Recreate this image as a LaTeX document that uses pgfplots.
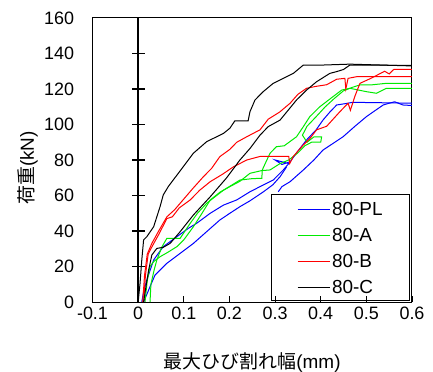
\documentclass[border=0pt]{standalone}
\usepackage{fontspec}
\setmainfont{Liberation Sans}
\newfontfamily\cjk{Noto Sans CJK JP}
\usepackage{pgfplots}
\pgfplotsset{compat=1.18}
\definecolor{cblue}{RGB}{0,0,255}
\definecolor{cgreen}{RGB}{0,235,0}
\definecolor{cred}{RGB}{255,0,0}
\begin{document}
\begin{tikzpicture}
\begin{axis}[name=ax, scale only axis, width=319.5bp, height=284bp,
 xmin=-0.1, xmax=0.6, ymin=0, ymax=160,
 xtick={-0.1,0,0.1,0.2,0.3,0.4,0.5,0.6},
 ytick={0,20,...,160},
 xtick pos=left, ytick pos=left,
 tick align=inside,
 major tick length=6bp,
 ytick style={draw=none},
 xtick style={black, line width=0.8bp},
 axis line style={line width=1bp},
 /pgf/number format/assume math mode=true,
 ticklabel style={font=\fontsize{18}{18}\selectfont},
 yticklabel style={xshift=-15bp},
 xticklabel style={yshift=-1bp},
 xlabel={{\cjk 最大ひび割れ幅}(mm)},
 ylabel={{\cjk 荷重}(kN)},
 label style={font=\fontsize{19}{19}\selectfont},
 xlabel style={at={([yshift=-61bp]axis description cs:0.5,0)}, anchor=center},
 ylabel style={at={([xshift=-64.5bp]axis description cs:0,0.472)}, anchor=center},
 legend style={at={(rel axis cs:0.99,0.007)}, anchor=south east, draw=none, fill=none,
   font=\fontsize{19}{19}\selectfont, inner xsep=24bp, inner ysep=3bp, row sep=7.2bp,
   nodes={inner sep=2bp}},
 legend cell align=left,
 legend image code/.code={\draw[mark repeat=2,mark phase=2,#1] plot coordinates {(0bp,0bp) (16bp,0bp) (32bp,0bp)};},
 every axis plot/.append style={line width=1bp},
]
\addlegendimage{color=cblue, draw=cblue, line width=1.1bp}
\addlegendentry{80-PL}
\addlegendimage{color=cgreen, draw=cgreen, line width=1.1bp}
\addlegendentry{80-A}
\addlegendimage{color=cred, draw=cred, line width=1.1bp}
\addlegendentry{80-B}
\addlegendimage{color=black, draw=black, line width=1.1bp}
\addlegendentry{80-C}
\addplot[draw=black, line width=1.5bp, forget plot] coordinates {(0,0) (0,160)};
\addplot[draw=black, only marks, mark=-, mark size=6.5bp, mark options={line width=1.3bp}, forget plot]
  coordinates {(0,20) (0,40) (0,60) (0,80) (0,100) (0,120) (0,140)};
% 80-PL
\addplot[draw=cblue, forget plot] coordinates {(0.008,0) (0.012,6) (0.019,12.4) (0.034,23.7) (0.055,31.2) (0.085,36.8) (0.11,41.5) (0.128,44.3) (0.158,50) (0.187,54.6) (0.216,57.5) (0.245,62.1) (0.274,65.9) (0.296,68.7) (0.318,74.4) (0.33,78) (0.30,80) (0.315,77.5) (0.333,79) (0.35,85) (0.369,91.3) (0.39,97) (0.405,102.5) (0.42,107) (0.435,111) (0.46,112) (0.47,112.5) (0.6,112)};
\addplot[draw=cblue, forget plot] coordinates {(0.012,0) (0.026,8.6) (0.037,15.2) (0.063,21.8) (0.092,27.4) (0.121,33) (0.15,39.6) (0.179,46.2) (0.201,50) (0.223,53.7) (0.245,57) (0.274,62) (0.295,66) (0.311,70.6) (0.325,76)};
\addplot[draw=cblue, forget plot] coordinates {(0.307,62.1) (0.315,65) (0.333,67.8) (0.362,74.4) (0.385,80) (0.405,85.6) (0.425,89) (0.449,93.1) (0.475,99) (0.5,104.4) (0.52,108) (0.537,111) (0.55,112) (0.562,112.8) (0.58,111) (0.6,110.7)};
% 80-A
\addplot[draw=cgreen, forget plot] coordinates {(0.015,0) (0.02,12) (0.026,20) (0.035,23) (0.048,25.5) (0.065,28) (0.085,31.2) (0.1,35) (0.121,42.4) (0.14,50) (0.158,57.5) (0.18,62) (0.201,65) (0.223,68) (0.245,72.5) (0.27,74) (0.289,74.4) (0.311,78) (0.33,80) (0.35,84) (0.365,88) (0.38,90) (0.40,90) (0.402,93) (0.385,93) (0.37,90) (0.36,94) (0.37,99) (0.39,104.4) (0.41,110) (0.43,114.7) (0.45,119) (0.47,121) (0.486,122.3) (0.51,122.3) (0.544,123.2) (0.6,123.2)};
\addplot[draw=cgreen, forget plot] coordinates {(0.026,0) (0.028,10) (0.035,18) (0.041,23.7) (0.052,31) (0.063,35.9) (0.092,35.9) (0.114,44.3) (0.13,50) (0.15,55.6) (0.187,63) (0.223,68.7) (0.25,69.5) (0.271,69.7) (0.272,74.4) (0.282,80) (0.289,83.8) (0.303,87.5) (0.32,88) (0.347,93.1) (0.362,98.8) (0.376,104.4) (0.398,110) (0.427,115.7) (0.446,119.4) (0.464,120.4) (0.5,118.5) (0.522,117.6) (0.544,120.4) (0.6,120.4)};
% 80-B
\addplot[draw=cred, forget plot] coordinates {(0.01,0) (0.014,15) (0.02,27) (0.03,33) (0.045,40) (0.063,48) (0.08,52) (0.1,58) (0.12,64) (0.143,70.6) (0.161,75.3) (0.179,81.9) (0.201,86) (0.216,90) (0.238,93.1) (0.267,97) (0.285,103) (0.31,107) (0.333,112) (0.35,117) (0.369,120.4) (0.39,121.5) (0.413,122.4) (0.435,125.5) (0.453,126) (0.455,120) (0.46,126) (0.48,127) (0.52,127) (0.6,127)};
\addplot[draw=cred, forget plot] coordinates {(0.012,0) (0.016,15) (0.022,27) (0.03,31) (0.045,38) (0.063,47) (0.075,48) (0.09,53) (0.114,57.5) (0.135,63) (0.158,67.8) (0.185,72) (0.209,76.2) (0.238,80) (0.267,82) (0.33,82) (0.332,78) (0.34,82) (0.36,88) (0.376,92) (0.391,97) (0.413,99) (0.442,107.2) (0.46,112) (0.465,108) (0.475,116) (0.486,123.2) (0.51,126) (0.525,128) (0.54,130) (0.55,128.5) (0.56,131) (0.6,131)};
% 80-C
\addplot[draw=black, forget plot] coordinates {(0,0) (0.004,10) (0.008,23.7) (0.012,35) (0.019,36.8) (0.034,42.4) (0.048,53.7) (0.055,60.3) (0.066,65) (0.085,71.5) (0.107,79) (0.121,83.8) (0.15,90.3) (0.187,95) (0.201,97.9) (0.212,102.1) (0.241,102.1) (0.245,107.2) (0.256,113.8) (0.274,118.5) (0.296,123.2) (0.318,126) (0.34,128.8) (0.362,133.5) (0.405,133.5) (0.464,134) (0.6,133)};
\addplot[draw=black, forget plot] coordinates {(0.012,0) (0.018,10) (0.023,18) (0.03,26.5) (0.041,30.2) (0.055,30.8) (0.07,33) (0.092,39.6) (0.121,49) (0.158,59.3) (0.194,70) (0.223,80) (0.245,86.5) (0.267,94) (0.285,98.8) (0.311,102.5) (0.347,113.8) (0.369,119.4) (0.391,124.1) (0.42,128.8) (0.435,129.8) (0.45,131) (0.464,133.5) (0.6,133.3)};
\draw[line width=0.8bp] (rel axis cs:0.5587,0.007) rectangle (rel axis cs:0.9906,0.380);
\end{axis}
\pgfresetboundingbox
\path ([shift={(-92.5bp,-70bp)}]ax.south west) rectangle ([shift={(340.5bp,302bp)}]ax.south west);
\end{tikzpicture}
\end{document}
